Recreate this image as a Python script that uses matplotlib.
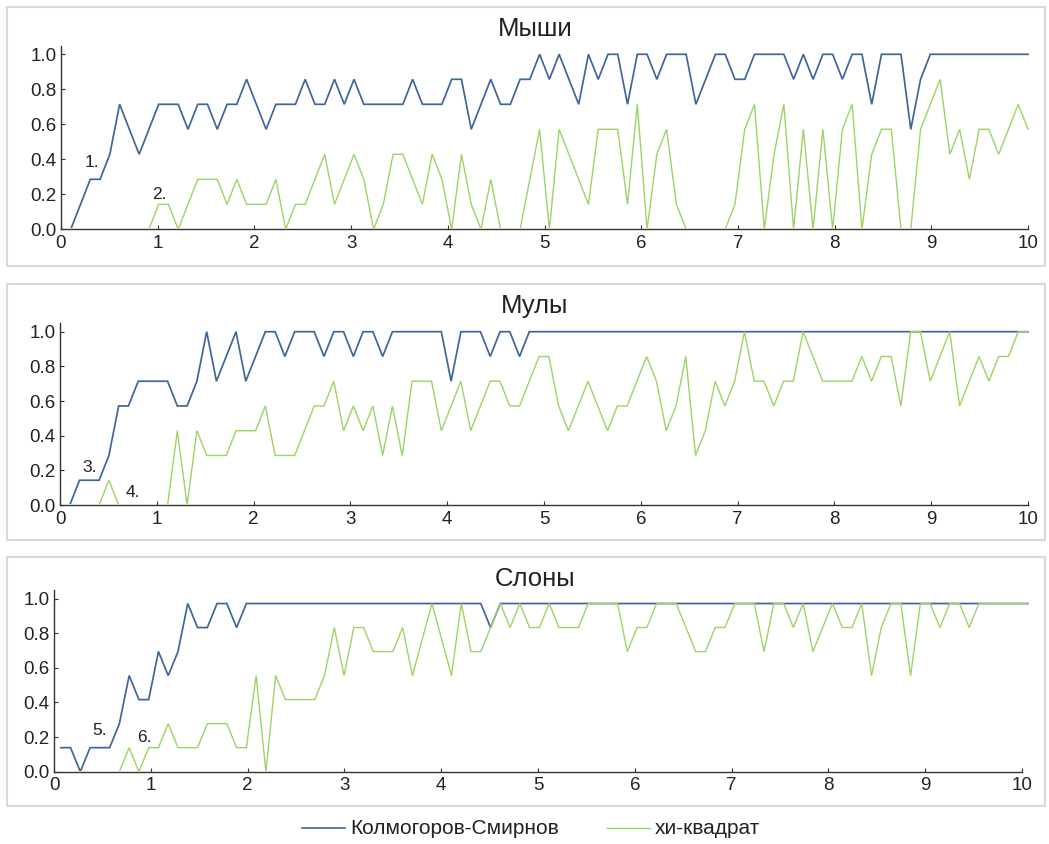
import numpy as np
import matplotlib
matplotlib.use("Agg")
import matplotlib.pyplot as plt
from matplotlib.lines import Line2D
from matplotlib.patches import Rectangle

plt.rcParams['font.family'] = ['Liberation Sans', 'DejaVu Sans']

# ---------------- data ----------------
titles = ["Мыши", "Мулы", "Слоны"]
series_names = ["Колмогоров-Смирнов", "хи-квадрат"]
x_ticks = list(range(0, 11))
y_ticks = [0.0, 0.2, 0.4, 0.6, 0.8, 1.0]
n_levels = 7                       # values are counts out of 7
top_value = [1.0, 1.0, 0.971]      # value reached by a full count, per panel
x_first = [0.0, 0.0, 0.07]
x_last = [10.0, 10.0, 10.06]
n_points = 100

mice_ks = [0, 0, 1, 2, 2, 3, 5, 4, 3, 4,
           5, 5, 5, 4, 5, 5, 4, 5, 5, 6,
           5, 4, 5, 5, 5, 6, 5, 5, 6, 5,
           6, 5, 5, 5, 5, 5, 6, 5, 5, 5,
           6, 6, 4, 5, 6, 5, 5, 6, 6, 7,
           6, 7, 6, 5, 7, 6, 7, 7, 5, 7,
           7, 6, 7, 7, 7, 5, 6, 7, 7, 6,
           6, 7, 7, 7, 7, 6, 7, 6, 7, 7,
           6, 7, 7, 5, 7, 7, 7, 4, 6, 7,
           7, 7, 7, 7, 7, 7, 7, 7, 7, 7]
mice_chi = [0, 0, 0, 0, 0, 0, 0, 0, 0, 0,
            1, 1, 0, 1, 2, 2, 2, 1, 2, 1,
            1, 1, 2, 0, 1, 1, 2, 3, 1, 2,
            3, 2, 0, 1, 3, 3, 2, 1, 3, 2,
            0, 3, 1, 0, 2, 0, 0, 0, 2, 4,
            0, 4, 3, 2, 1, 4, 4, 4, 1, 5,
            0, 3, 4, 1, 0, 0, 0, 0, 0, 1,
            4, 5, 0, 3, 5, 0, 4, 0, 4, 0,
            4, 5, 0, 3, 4, 4, 0, 0, 4, 5,
            6, 3, 4, 2, 4, 4, 3, 4, 5, 4]
mules_ks = [0, 0, 1, 1, 1, 2, 4, 4, 5, 5,
            5, 5, 4, 4, 5, 7, 5, 6, 7, 5,
            6, 7, 7, 6, 7, 7, 7, 6, 7, 7,
            6, 7, 7, 6, 7, 7, 7, 7, 7, 7,
            5, 7, 7, 7, 6, 7, 7, 6, 7, 7,
            7, 7, 7, 7, 7, 7, 7, 7, 7, 7,
            7, 7, 7, 7, 7, 7, 7, 7, 7, 7,
            7, 7, 7, 7, 7, 7, 7, 7, 7, 7,
            7, 7, 7, 7, 7, 7, 7, 7, 7, 7,
            7, 7, 7, 7, 7, 7, 7, 7, 7, 7]
mules_chi = [0, 0, 0, 0, 0, 1, 0, 0, 0, 0,
             0, 0, 3, 0, 3, 2, 2, 2, 3, 3,
             3, 4, 2, 2, 2, 3, 4, 4, 5, 3,
             4, 3, 4, 2, 4, 2, 5, 5, 5, 3,
             4, 5, 3, 4, 5, 5, 4, 4, 5, 6,
             6, 4, 3, 4, 5, 4, 3, 4, 4, 5,
             6, 5, 3, 4, 6, 2, 3, 5, 4, 5,
             7, 5, 5, 4, 5, 5, 7, 6, 5, 5,
             5, 5, 6, 5, 6, 6, 4, 7, 7, 5,
             6, 7, 4, 5, 6, 5, 6, 6, 7, 7]
elephants_ks = [1, 1, 0, 1, 1, 1, 2, 4, 3, 3,
                5, 4, 5, 7, 6, 6, 7, 7, 6, 7,
                7, 7, 7, 7, 7, 7, 7, 7, 7, 7,
                7, 7, 7, 7, 7, 7, 7, 7, 7, 7,
                7, 7, 7, 7, 6, 7, 7, 7, 7, 7,
                7, 7, 7, 7, 7, 7, 7, 7, 7, 7,
                7, 7, 7, 7, 7, 7, 7, 7, 7, 7,
                7, 7, 7, 7, 7, 7, 7, 7, 7, 7,
                7, 7, 7, 7, 7, 7, 7, 7, 7, 7,
                7, 7, 7, 7, 7, 7, 7, 7, 7, 7]
elephants_chi = [0, 0, 0, 0, 0, 0, 0, 1, 0, 1,
                 1, 2, 1, 1, 1, 2, 2, 2, 1, 1,
                 4, 0, 4, 3, 3, 3, 3, 4, 6, 4,
                 6, 6, 5, 5, 5, 6, 4, 5.5, 7, 5.5,
                 4, 7, 5, 5, 6, 7, 6, 7, 6, 6,
                 7, 6, 6, 6, 7, 7, 7, 7, 5, 6,
                 6, 7, 7, 7, 6, 5, 5, 6, 6, 7,
                 7, 7, 5, 7, 7, 6, 7, 5, 6, 7,
                 6, 6, 7, 4, 6, 7, 7, 4, 7, 7,
                 6, 7, 7, 6, 7, 7, 7, 7, 7, 7]

ks_series = [mice_ks, mules_ks, elephants_ks]
chi_series = [mice_chi, mules_chi, elephants_chi]
point_labels = [("1.", "2."), ("3.", "4."), ("5.", "6.")]
label_xy = [((0.32, 0.38), (1.02, 0.20)),
            ((0.31, 0.215), (0.75, 0.07)),
            ((0.47, 0.24), (0.93, 0.20))]

# ---------------- style / layout ----------------
W, H = 1049, 844
blue = '#3e6699'
green = '#9bd465'
axis_col = '#333333'
frame_col = '#d8d8d8'

# (left px, right px, y=0 px, px per unit y)
panels_px = [(61, 1028, 229.3, 175.0),
             (60, 1028, 505.0, 173.3),
             (54, 1022, 771.7, 173.2)]
frames_px = [(7, 7, 1045, 265.5), (7, 284, 1045, 540), (7, 557, 1045, 806)]
title_baseline = [35.7, 313.3, 585.7]
ytop = 1.05

fig = plt.figure(figsize=(W / 100, H / 100), dpi=100)
fig.patch.set_facecolor('white')

for (x0, y0, x1, y1) in frames_px:
    fig.patches.append(Rectangle((x0 / W, 1 - y1 / H), (x1 - x0) / W, (y1 - y0) / H,
                                 transform=fig.transFigure, facecolor='none',
                                 edgecolor=frame_col, linewidth=1.5, zorder=0))

for k in range(3):
    left, right, base, unit = panels_px[k]
    ax = fig.add_axes([left / W, 1 - base / H, (right - left) / W, ytop * unit / H])
    ax.set_facecolor('none')
    x = np.linspace(x_first[k], x_last[k], n_points)
    scale = top_value[k] / n_levels
    ks = np.array(ks_series[k], dtype=float) * scale
    chi = np.array(chi_series[k], dtype=float) * scale
    # clip just above the x axis so runs of zeros sit hidden under the axis line
    clip = Rectangle((-1, 0.006), 13, 3, transform=ax.transData)
    l1, = ax.plot(x, ks, color=blue, lw=1.25, zorder=2, solid_joinstyle='miter')
    l2, = ax.plot(x, chi, color=green, lw=1.0, zorder=2.1, solid_joinstyle='miter')
    for ln in (l1, l2):
        ln.set_clip_path(clip)
    ax.set_xlim(0, 10)
    ax.set_ylim(0, ytop)
    ax.set_xticks(x_ticks)
    ax.set_xticklabels([str(t) for t in x_ticks])
    ax.set_yticks(y_ticks)
    ax.set_yticklabels([f"{t:.1f}" for t in y_ticks])
    for s in ('top', 'right'):
        ax.spines[s].set_visible(False)
    for s in ('left', 'bottom'):
        ax.spines[s].set_color(axis_col)
        ax.spines[s].set_linewidth(1.0)
        ax.spines[s].set_zorder(3)
    ax.tick_params(axis='both', direction='in', length=3, width=0.8, color=axis_col,
                   labelsize=13.5, labelcolor='#222222')
    ax.tick_params(axis='y', pad=3)
    ax.tick_params(axis='x', pad=4)
    for lab, (lx, ly) in zip(point_labels[k], label_xy[k]):
        ax.text(lx, ly, lab, fontsize=12.5, color='#222222', ha='center', va='center')
    fig.text(535 / W, 1 - title_baseline[k] / H, titles[k], fontsize=18.5,
             color='#222222', ha='center', va='baseline')

# legend
ly = 1 - 828 / H
for (xa, xb, xt), col, name in zip([(302, 345, 350), (607, 650, 655)], [blue, green], series_names):
    fig.lines.append(Line2D([xa / W, xb / W], [ly, ly], transform=fig.transFigure,
                            color=col, lw=1.2 if col == blue else 1.0))
    fig.text(xt / W, ly, name, fontsize=15, color='#222222', ha='left', va='center')

fig.savefig('out.png', dpi=100, facecolor='white')
